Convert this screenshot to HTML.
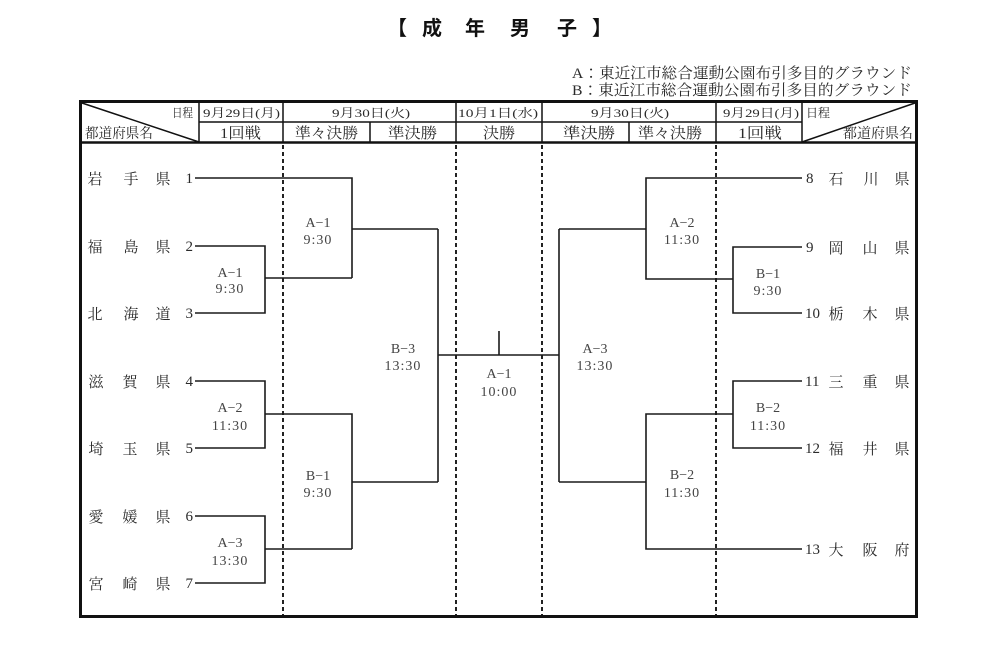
<!DOCTYPE html>
<html lang="ja">
<head>
<meta charset="utf-8">
<style>
html,body{margin:0;padding:0;background:#fff;}
svg{display:block;}
.t{font-family:"Liberation Serif","Noto Serif CJK SC","Noto Serif CJK JP",serif;fill:#2a2a2a;}
.n{font-family:"Noto Serif CJK SC","Noto Serif CJK JP",serif;fill:#2a2a2a;font-size:15px;}
.h{font-family:"Liberation Serif","Noto Serif CJK SC",serif;fill:#2a2a2a;}
.ttl{font-family:"Liberation Sans","Noto Sans CJK JP",sans-serif;font-weight:bold;font-size:20px;fill:#111;}
.lb{font-family:"Liberation Serif","Noto Serif CJK SC",serif;font-size:14px;fill:#444;text-anchor:middle;}
</style>
</head>
<body>
<svg width="984" height="652" viewBox="0 0 984 652" xmlns="http://www.w3.org/2000/svg">
<rect width="984" height="652" fill="#fff"/>

<!-- Title -->
<g class="ttl" text-anchor="middle">
<text x="397" y="35">【</text>
<text x="432" y="35">成</text>
<text x="475" y="35">年</text>
<text x="520" y="35">男</text>
<text x="567" y="35">子</text>
<text x="602" y="35">】</text>
</g>

<!-- Venue notes -->
<text class="h" x="572" y="78" font-size="15" textLength="340" lengthAdjust="spacingAndGlyphs">A：東近江市総合運動公園布引多目的グラウンド</text>
<text class="h" x="572" y="95" font-size="15" textLength="340" lengthAdjust="spacingAndGlyphs">B：東近江市総合運動公園布引多目的グラウンド</text>

<!-- Table frame -->
<g stroke="#111" fill="none">
<rect x="80.5" y="101.5" width="836" height="515" stroke-width="3"/>
<line x1="80" y1="142.5" x2="917" y2="142.5" stroke-width="2.5"/>
<line x1="199" y1="122" x2="802" y2="122" stroke-width="1.5"/>
<g stroke-width="1.5">
<line x1="199" y1="101" x2="199" y2="142"/>
<line x1="283" y1="101" x2="283" y2="142"/>
<line x1="456" y1="101" x2="456" y2="142"/>
<line x1="542" y1="101" x2="542" y2="142"/>
<line x1="716" y1="101" x2="716" y2="142"/>
<line x1="802" y1="101" x2="802" y2="142"/>
<line x1="370" y1="122" x2="370" y2="142"/>
<line x1="629" y1="122" x2="629" y2="142"/>
<line x1="82" y1="103" x2="199" y2="142"/>
<line x1="802" y1="142" x2="915" y2="103"/>
</g>
<!-- dashed dividers -->
<g stroke-width="2" stroke-dasharray="4 3" stroke="#222">
<line x1="283" y1="145" x2="283" y2="615"/>
<line x1="456" y1="145" x2="456" y2="615"/>
<line x1="542" y1="145" x2="542" y2="615"/>
<line x1="716" y1="145" x2="716" y2="615"/>
</g>
</g>

<!-- Header text -->
<g class="h">
<text x="172" y="117" font-size="12" textLength="21" lengthAdjust="spacingAndGlyphs">日程</text>
<text x="203" y="117" font-size="12" textLength="77" lengthAdjust="spacingAndGlyphs">9月29日(月)</text>
<text x="332" y="117" font-size="12" textLength="78" lengthAdjust="spacingAndGlyphs">9月30日(火)</text>
<text x="458" y="117" font-size="12" textLength="80" lengthAdjust="spacingAndGlyphs">10月1日(水)</text>
<text x="591" y="117" font-size="12" textLength="78" lengthAdjust="spacingAndGlyphs">9月30日(火)</text>
<text x="723" y="117" font-size="12" textLength="76" lengthAdjust="spacingAndGlyphs">9月29日(月)</text>
<text x="806" y="117" font-size="12" textLength="24" lengthAdjust="spacingAndGlyphs">日程</text>

<text x="85" y="138" font-size="14" textLength="68" lengthAdjust="spacingAndGlyphs">都道府県名</text>
<text x="220" y="138" font-size="15" textLength="41" lengthAdjust="spacingAndGlyphs">1回戦</text>
<text x="295" y="138" font-size="15" textLength="63" lengthAdjust="spacingAndGlyphs">準々決勝</text>
<text x="388" y="138" font-size="15" textLength="49" lengthAdjust="spacingAndGlyphs">準決勝</text>
<text x="483" y="138" font-size="15" textLength="32" lengthAdjust="spacingAndGlyphs">決勝</text>
<text x="563" y="138" font-size="15" textLength="52" lengthAdjust="spacingAndGlyphs">準決勝</text>
<text x="638" y="138" font-size="15" textLength="64" lengthAdjust="spacingAndGlyphs">準々決勝</text>
<text x="738" y="138" font-size="15" textLength="44" lengthAdjust="spacingAndGlyphs">1回戦</text>
<text x="843" y="138" font-size="14" textLength="70" lengthAdjust="spacingAndGlyphs">都道府県名</text>
</g>

<!-- Bracket lines -->
<g stroke="#1a1a1a" stroke-width="1.6" fill="none">
<path d="M195 178 H352 V278"/>
<path d="M195 246 H265 V313 H195"/>
<path d="M265 278 H352"/>
<path d="M352 229 H438"/>
<path d="M195 381 H265 V448 H195"/>
<path d="M265 414 H352 V549"/>
<path d="M195 516 H265 V583 H195"/>
<path d="M265 549 H352"/>
<path d="M352 482 H438"/>
<path d="M438 229 V482"/>
<path d="M438 355 H559"/>
<path d="M499 331 V355"/>
<path d="M559 229 V482"/>
<path d="M559 229 H646"/>
<path d="M559 482 H646"/>
<path d="M802 178 H646 V279 H733"/>
<path d="M802 247 H733 V313 H802"/>
<path d="M802 381 H733 V448 H802"/>
<path d="M733 414 H646 V549 H802"/>
</g>

<!-- Left team names -->
<g class="n" text-anchor="middle">
<text x="95" y="184">岩</text><text x="131" y="184">手</text><text x="163" y="184">県</text>
<text x="95" y="252">福</text><text x="131" y="252">島</text><text x="163" y="252">県</text>
<text x="95" y="319">北</text><text x="131" y="319">海</text><text x="163" y="319">道</text>
<text x="96" y="387">滋</text><text x="130" y="387">賀</text><text x="163" y="387">県</text>
<text x="96" y="454">埼</text><text x="130" y="454">玉</text><text x="163" y="454">県</text>
<text x="96" y="522">愛</text><text x="130" y="522">媛</text><text x="163" y="522">県</text>
<text x="96" y="589">宮</text><text x="130" y="589">崎</text><text x="163" y="589">県</text>
</g>
<g class="t" font-size="15" text-anchor="end">
<text x="193" y="183">1</text>
<text x="193" y="251">2</text>
<text x="193" y="318">3</text>
<text x="193" y="386">4</text>
<text x="193" y="453">5</text>
<text x="193" y="521">6</text>
<text x="193" y="588">7</text>
</g>

<!-- Right team names -->
<g class="t" font-size="15">
<text x="806" y="183">8</text>
<text x="806" y="252">9</text>
<text x="805" y="318">10</text>
<text x="805" y="386">11</text>
<text x="805" y="453">12</text>
<text x="805" y="554">13</text>
</g>
<g class="n" text-anchor="middle">
<text x="836" y="184">石</text><text x="871" y="184">川</text><text x="902" y="184">県</text>
<text x="836" y="253">岡</text><text x="870" y="253">山</text><text x="902" y="253">県</text>
<text x="836" y="319">栃</text><text x="870" y="319">木</text><text x="902" y="319">県</text>
<text x="836" y="387">三</text><text x="870" y="387">重</text><text x="902" y="387">県</text>
<text x="836" y="454">福</text><text x="870" y="454">井</text><text x="902" y="454">県</text>
<text x="836" y="555">大</text><text x="870" y="555">阪</text><text x="902" y="555">府</text>
</g>

<!-- Match labels -->
<g class="lb">
<text x="230" y="277">A−1</text><text x="230" y="293" letter-spacing="1">9:30</text>
<text x="230" y="412">A−2</text><text x="230" y="430" letter-spacing="1">11:30</text>
<text x="230" y="547">A−3</text><text x="230" y="565" letter-spacing="1">13:30</text>
<text x="318" y="227">A−1</text><text x="318" y="244" letter-spacing="1">9:30</text>
<text x="318" y="480">B−1</text><text x="318" y="497" letter-spacing="1">9:30</text>
<text x="403" y="353">B−3</text><text x="403" y="370" letter-spacing="1">13:30</text>
<text x="499" y="378">A−1</text><text x="499" y="396" letter-spacing="1">10:00</text>
<text x="595" y="353">A−3</text><text x="595" y="370" letter-spacing="1">13:30</text>
<text x="682" y="227">A−2</text><text x="682" y="244" letter-spacing="1">11:30</text>
<text x="682" y="479">B−2</text><text x="682" y="497" letter-spacing="1">11:30</text>
<text x="768" y="278">B−1</text><text x="768" y="295" letter-spacing="1">9:30</text>
<text x="768" y="412">B−2</text><text x="768" y="430" letter-spacing="1">11:30</text>
</g>
</svg>
</body>
</html>
